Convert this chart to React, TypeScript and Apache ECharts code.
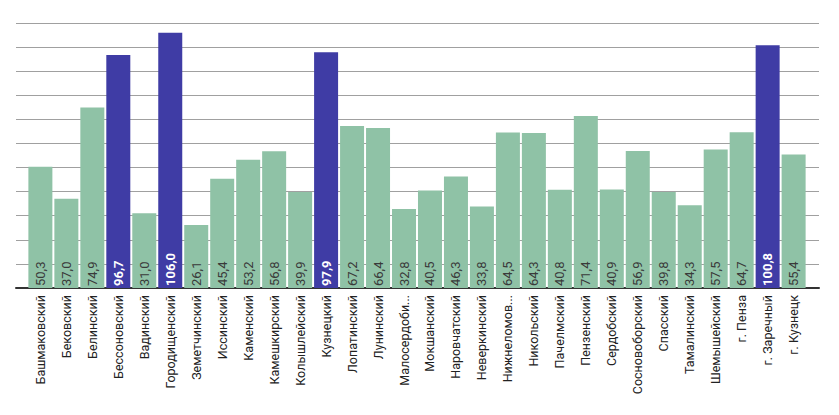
import React, { useEffect, useRef } from "react";
import * as echarts from "echarts";

const categories = [
  "Башмаковский", "Бековский", "Белинский", "Бессоновский", "Вадинский",
  "Городищенский", "Земетчинский", "Иссинский", "Каменский", "Камешкирский",
  "Колышлейский", "Кузнецкий", "Лопатинский", "Лунинский", "Малосердоби...",
  "Мокшанский", "Наровчатский", "Неверкинский", "Нижнеломов...", "Никольский",
  "Пачелмский", "Пензенский", "Сердобский", "Сосновоборский", "Спасский",
  "Тамалинский", "Шемышейский", "г. Пенза", "г. Заречный", "г. Кузнецк",
];
const values = [
  50.3, 37.0, 74.9, 96.7, 31.0, 106.0, 26.1, 45.4, 53.2, 56.8,
  39.9, 97.9, 67.2, 66.4, 32.8, 40.5, 46.3, 33.8, 64.5, 64.3,
  40.8, 71.4, 40.9, 56.9, 39.8, 34.3, 57.5, 64.7, 100.8, 55.4,
];
const highlighted = ["Бессоновский", "Городищенский", "Кузнецкий", "г. Заречный"];
const yTicks = { min: 0, max: 110, interval: 10 };

export default function App() {
  const ref = useRef<HTMLDivElement>(null);
  useEffect(() => {
    if (!ref.current) return;
    const chart = echarts.init(ref.current, null, { renderer: "svg" });
    const green = "#8fc2a6";
    const blue = "#3f3ca5";
    const top = 23;
    const bottom = 127;
    chart.setOption({
      animation: false,
      textStyle: { fontFamily: "Roboto" },
      grid: [
        { left: 16, right: 20, top, bottom },
        { left: 27.4, right: 32.4, top, bottom },
      ],
      xAxis: [
        {
          gridIndex: 0,
          type: "value",
          min: 0,
          max: 1,
          axisLine: { show: true, onZero: false, lineStyle: { color: "#333", width: 2 } },
          axisTick: { show: false },
          axisLabel: { show: false },
          splitLine: { show: false },
        },
        {
          gridIndex: 1,
          type: "category",
          data: categories,
          axisLine: { show: false },
          axisTick: { show: false },
          axisLabel: {
            rotate: 90,
            margin: 7,
            interval: 0,
            fontSize: 12.5,
            color: "#222",
            fontFamily: "Roboto",
          },
        },
      ],
      yAxis: [
        {
          gridIndex: 0,
          type: "value",
          ...yTicks,
          axisLine: { show: false },
          axisTick: { show: false },
          axisLabel: { show: false },
          splitLine: { show: true, lineStyle: { color: "#a0a0a0", width: 1 } },
        },
        {
          gridIndex: 1,
          type: "value",
          ...yTicks,
          show: false,
          splitLine: { show: false },
        },
      ],
      series: [
        {
          type: "bar",
          xAxisIndex: 1,
          yAxisIndex: 1,
          barWidth: 24,
          z: 3,
          data: values.map((v, i) => {
            const hi = highlighted.includes(categories[i]);
            return {
              value: v,
              itemStyle: { color: hi ? blue : green },
              label: {
                color: hi ? "#ffffff" : "#3a3a3a",
                fontWeight: hi ? "bold" : "normal",
              },
            };
          }),
          label: {
            show: true,
            position: "insideBottom",
            rotate: 90,
            align: "left",
            verticalAlign: "middle",
            distance: 2,
            fontSize: 13,
            fontFamily: "Roboto",
            formatter: (p: any) => Number(p.value).toFixed(1).replace(".", ","),
          },
        },
      ],
    });
    return () => chart.dispose();
  }, []);
  return <div ref={ref} style={{ width: 839, height: 415, position: "absolute", left: 0, top: 0 }} />;
}
